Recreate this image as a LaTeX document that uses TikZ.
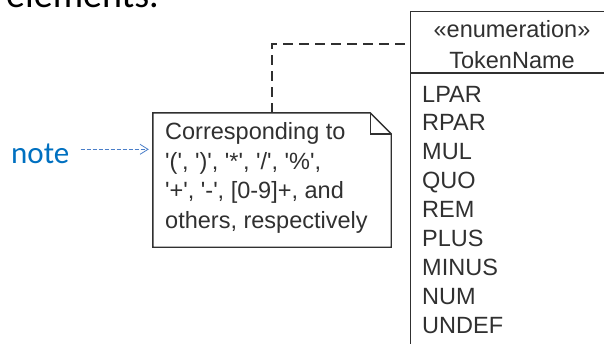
\documentclass[tikz,border=0pt]{standalone}
\usepackage{fontspec}
\setmainfont{Liberation Sans}
\newfontfamily\callout{Carlito}
\usetikzlibrary{arrows.meta,calc}

\definecolor{umlink}{HTML}{303030}
\definecolor{noteblue}{HTML}{0070C0}
\definecolor{pointerblue}{HTML}{4A7EC8}

% straight single quote (avoids the curly-quote mapping)
\newcommand{\sq}{\textquotesingle}

\tikzset{
  umlline/.style={draw=umlink, line width=1.4pt},
  umltext/.style={text=umlink, inner sep=0pt, font=\fontsize{23.5}{28}\selectfont},
  enumitem/.style={umltext, anchor=base west},
  conn/.style={draw=umlink, line width=1.4pt, dash pattern=on 10pt off 6pt},
  pointer/.style={draw=pointerblue, line width=0.8pt, dash pattern=on 4pt off 2pt,
    -{Straight Barb[length=8pt,width=10pt,line width=0.8pt]}}
}

\begin{document}
\begin{tikzpicture}[x=1pt,y=-1pt]
\useasboundingbox (0,0) rectangle (604,343);
\clip (0,0) rectangle (604,343);

% caption line running off the top edge
\node[anchor=base west, inner sep=0pt, font=\callout\fontsize{38}{44}\selectfont] (caption) at (6,7.5) {elements.};

% enumeration classifier
\node[umlline, minimum width=204pt, minimum height=350pt, anchor=north west, inner sep=0pt] (enum) at (410,10.5) {};
\draw[umlline] ($(enum.north west)+(0,62.5)$) -- ($(enum.north east)+(0,62.5)$);
\node[umltext, anchor=base] (stereo) at (512,37) {«enumeration»};
\node[umltext, anchor=base] (enumname) at (512,68) {TokenName};

\foreach \lit [count=\i from 0] in {LPAR,RPAR,MUL,QUO,REM,PLUS,MINUS,NUM,UNDEF}
  \node[enumitem] (lit\i) at (422,102+28.9*\i) {\lit};

% note with folded corner
\node[minimum width=238pt, minimum height=134pt, inner sep=0pt] (note) at (272,180) {};
\draw[umlline, fill=white, line join=miter]
  (note.north west) -- ($(note.north east)+(-21,0)$) -- ($(note.north east)+(0,21)$)
  -- (note.south east) -- (note.south west) -- cycle;
\draw[umlline, line join=miter]
  ($(note.north east)+(-21,0)$) -- ($(note.north east)+(-21,21)$) -- ($(note.north east)+(0,21)$);

\node[umltext, anchor=base west] (nl1) at (165,139.5) {Corresponding to};
\node[umltext, anchor=base west] (nl2) at (165,169) {\sq(\sq, \sq)\sq, \sq*\sq, \sq/\sq, \sq\%\sq,};
\node[umltext, anchor=base west] (nl3) at (165,198.5) {\sq+\sq, \sq-\sq, [0-9]+, and};
\node[umltext, anchor=base west] (nl4) at (165,228) {others, respectively};

% anchor line from the note to the classifier
\draw[conn] (note.north) |- ($(enum.north west)+(0,33.5)$);

% callout label
\node[anchor=base west, inner sep=0pt, text=noteblue, font=\callout\fontsize{31}{36}\selectfont] (noteword) at (11,163) {note};
\draw[pointer] ([xshift=11pt,yshift=4pt]noteword.east) -- ([xshift=-4pt,yshift=4pt]noteword.east -| note.west);
\end{tikzpicture}
\end{document}
